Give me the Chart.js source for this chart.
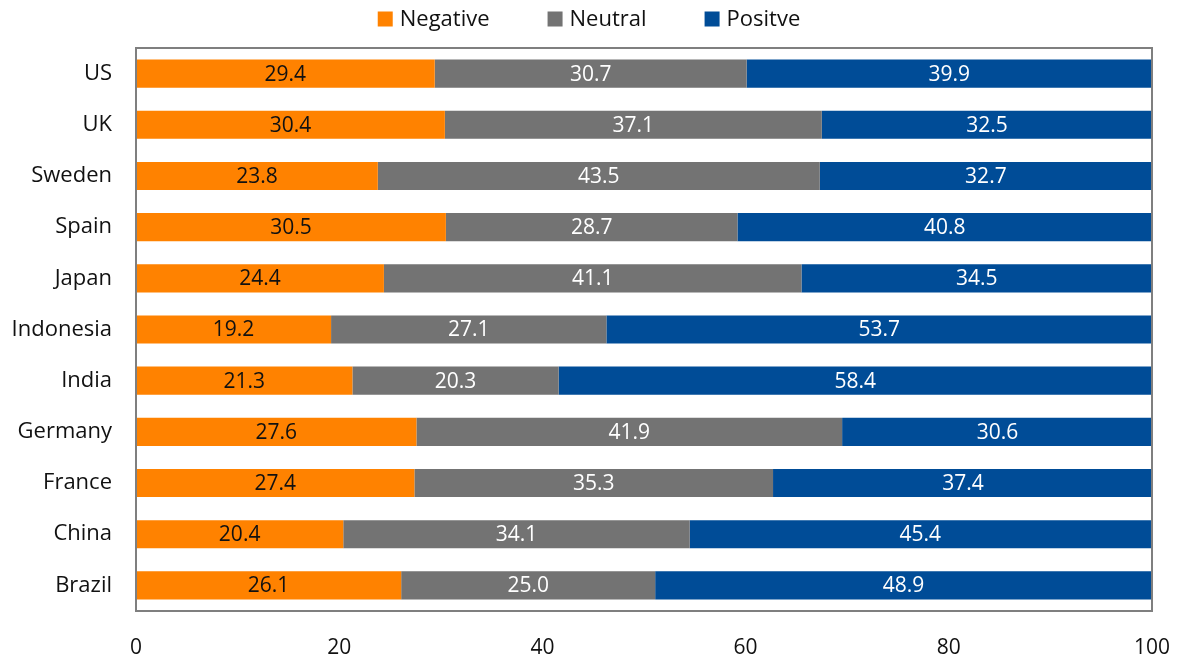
<!DOCTYPE html>
<html>
<head>
<meta charset="utf-8">
<script src="https://cdn.jsdelivr.net/npm/chart.js@4.4.1/dist/chart.umd.min.js"></script>
<style>
  html, body { margin: 0; padding: 0; background: #fff; }
  #wrap { width: 1178px; height: 658px; position: relative; }
</style>
</head>
<body>
<div id="wrap"><canvas id="sentimentChart"></canvas></div>
<script>
const countries = ['US', 'UK', 'Sweden', 'Spain', 'Japan', 'Indonesia', 'India', 'Germany', 'France', 'China', 'Brazil'];
const negative = [29.4, 30.4, 23.8, 30.5, 24.4, 19.2, 21.3, 27.6, 27.4, 20.4, 26.1];
const neutral  = [30.7, 37.1, 43.5, 28.7, 41.1, 27.1, 20.3, 41.9, 35.3, 34.1, 25.0];
const positive = [39.9, 32.5, 32.7, 40.8, 34.5, 53.7, 58.4, 30.6, 37.4, 45.4, 48.9];
const xTicks = [0, 20, 40, 60, 80, 100];

const FONT = '"Open Sans", "Noto Sans", sans-serif';

// frame around the plot area
const frame = {
  id: 'frame',
  afterDraw(chart) {
    const { ctx, chartArea: a } = chart;
    ctx.save();
    ctx.strokeStyle = '#7f7f7f';
    ctx.lineWidth = 2;
    ctx.strokeRect(a.left, a.top, a.right - a.left, a.bottom - a.top);
    ctx.restore();
  }
};

// value labels in the middle of each segment
const segLabels = {
  id: 'segLabels',
  afterDatasetsDraw(chart) {
    const { ctx } = chart;
    ctx.save();
    ctx.font = '21px ' + FONT;
    ctx.textAlign = 'center';
    ctx.textBaseline = 'middle';
    chart.data.datasets.forEach((ds, i) => {
      const meta = chart.getDatasetMeta(i);
      ctx.fillStyle = ds.labelColor;
      meta.data.forEach((bar, j) => {
        const cx = (bar.x + bar.base) / 2;
        ctx.fillText(ds.data[j].toFixed(1), cx, bar.y + 1);
      });
    });
    ctx.restore();
  }
};

// single-row legend across the top, centred on the canvas
const topLegend = {
  id: 'topLegend',
  afterDraw(chart) {
    const { ctx, width } = chart;
    const box = 15, gap = 7, spacing = 58, y = 19;
    ctx.save();
    ctx.font = '22px ' + FONT;
    ctx.textBaseline = 'middle';
    const items = chart.data.datasets.map(ds => ({
      text: ds.label, color: ds.backgroundColor, w: box + gap + ctx.measureText(ds.label).width
    }));
    const total = items.reduce((s, it) => s + it.w, 0) + spacing * (items.length - 1);
    let x = (width - total) / 2;
    items.forEach(it => {
      ctx.fillStyle = it.color;
      ctx.fillRect(x, y - box / 2, box, box);
      ctx.fillStyle = '#111';
      ctx.fillText(it.text, x + box + gap, y + 1);
      x += it.w + spacing;
    });
    ctx.restore();
  }
};

new Chart(document.getElementById('sentimentChart'), {
  type: 'bar',
  data: {
    labels: countries,
    datasets: [
      { label: 'Negative', data: negative, backgroundColor: '#ff8200', labelColor: '#111' },
      { label: 'Neutral',  data: neutral,  backgroundColor: '#737373', labelColor: '#fff' },
      { label: 'Positve',  data: positive, backgroundColor: '#004c97', labelColor: '#fff' }
    ]
  },
  options: {
    indexAxis: 'y',
    responsive: true,
    maintainAspectRatio: false,
    animation: false,
    barPercentage: 1,
    categoryPercentage: 0.55,
    layout: { padding: { left: 0, right: 26, top: 48, bottom: 0 } },
    plugins: {
      legend: { display: false },
      tooltip: { enabled: false }
    },
    scales: {
      x: {
        stacked: true,
        min: 0,
        max: 100,
        afterBuildTicks: s => { s.ticks = xTicks.map(v => ({ value: v })); },
        afterFit: s => { s.height = 47; s.paddingLeft = 0; s.paddingRight = 0; },
        grid: { display: false, drawTicks: false },
        border: { display: false },
        ticks: { font: { family: FONT, size: 21 }, color: '#111', padding: 24 }
      },
      y: {
        stacked: true,
        afterFit: s => { s.width = 136; },
        grid: { display: false, drawTicks: false },
        border: { display: false },
        ticks: { font: { family: FONT, size: 22 }, color: '#111', padding: 24 }
      }
    }
  },
  plugins: [frame, segLabels, topLegend]
});
</script>
</body>
</html>
